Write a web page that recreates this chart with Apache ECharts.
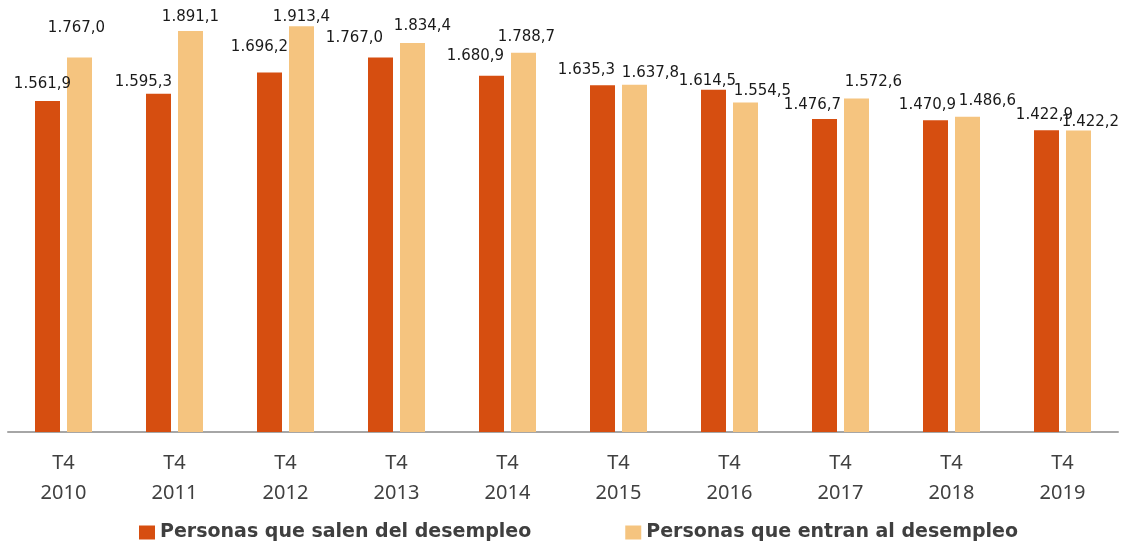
<!DOCTYPE html>
<html>
<head>
<meta charset="utf-8">
<script src="https://cdn.jsdelivr.net/npm/echarts@6/dist/echarts.min.js"></script>
<style>
html,body{margin:0;padding:0;background:#fff;}
#chart{width:1129px;height:545px;}
</style>
</head>
<body>
<div id="chart"></div>
<script>
const categories = ['T4\n2010','T4\n2011','T4\n2012','T4\n2013','T4\n2014','T4\n2015','T4\n2016','T4\n2017','T4\n2018','T4\n2019'];
const seriesNames = ['Personas que salen del desempleo','Personas que entran al desempleo'];
const salen = [1561.9,1595.3,1696.2,1767.0,1680.9,1635.3,1614.5,1476.7,1470.9,1422.9];
const entran = [1767.0,1891.1,1913.4,1834.4,1788.7,1637.8,1554.5,1572.6,1486.6,1422.2];
// label nudges (px) to mimic the reference label placement
const salenLabelOffsets = [[-5,-4],[-15,1],[-10,-13],[-26,-7],[-16,-7],[-16,-3],[-6,4],[-12,-1],[-8,-3],[-2,-3]];
const entranLabelOffsets = [[-3,-17],[0,-1],[0,3],[10,-4],[3,-3],[16,1],[17,1],[17,-4],[20,-3],[12,4]];

function fmt(v){
  const parts = v.toFixed(1).split('.');
  const intPart = parts[0].replace(/\B(?=(\d{3})+(?!\d))/g,'.');
  return intPart + ',' + parts[1];
}
function buildData(values, offsets){
  return values.map((v,i)=>({value:v,label:{offset:offsets[i]}}));
}

const chart = echarts.init(document.getElementById('chart'));
const labelStyle = {
  show:true, position:'top', distance:5,
  fontFamily:'DejaVu Sans', fontSize:15, color:'#1a1a1a',
  formatter:(p)=>fmt(p.value)
};
chart.setOption({
  animation:false,
  backgroundColor:'#ffffff',
  grid:{left:8,right:11,top:8,bottom:113,containLabel:false},
  legend:{
    left:134, top:518,
    itemWidth:16, itemHeight:14, itemGap:94, itemTextGap:7,
    icon:'rect',
    textStyle:{fontFamily:'DejaVu Sans',fontSize:19,fontWeight:'bold',color:'#3f3f3f'},
    data:seriesNames
  },
  xAxis:{
    type:'category', data:categories,
    axisLine:{show:true,lineStyle:{color:'#A6A6A6',width:2}},
    axisTick:{show:false},
    axisLabel:{fontFamily:'Noto Sans',fontSize:20,color:'#404040',lineHeight:30,margin:16,interval:0}
  },
  yAxis:{type:'value',min:0,max:2000,show:false,splitLine:{show:false}},
  series:[
    {name:seriesNames[0],type:'bar',data:buildData(salen,salenLabelOffsets),barWidth:25,barGap:'28%',
     itemStyle:{color:'#D64E10'},label:labelStyle},
    {name:seriesNames[1],type:'bar',data:buildData(entran,entranLabelOffsets),barWidth:25,
     itemStyle:{color:'#F5C47F'},label:labelStyle}
  ]
});
</script>
</body>
</html>
